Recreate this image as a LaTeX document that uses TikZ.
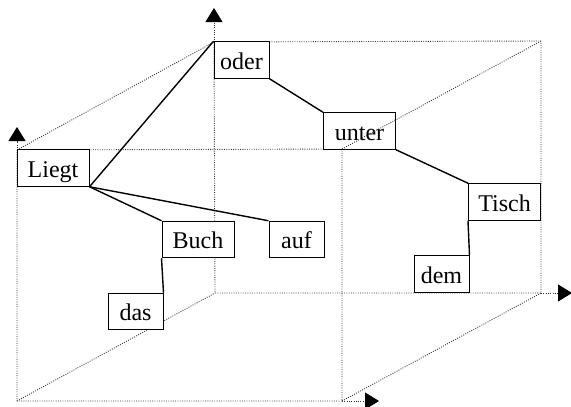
\documentclass[tikz,border=0pt]{standalone}
\usepackage{fontspec}
\setmainfont{Liberation Serif}
\usetikzlibrary{arrows.meta}
\tikzset{wd/.style={draw,fill=white,line width=1pt,minimum width=55pt,minimum height=36.5pt,inner sep=0pt,text height=23pt,text depth=5pt,font=\fontsize{24}{28}\selectfont},
 lw/.style={wd,minimum width=72pt},
 dt/.style={line width=0.9pt,dash pattern=on 0.9pt off 1.4pt,black!80},
 ax/.style={dt,-{Triangle[length=14pt,width=17pt,black]}},
 ln/.style={line width=1.4pt}}

\begin{document}
\begin{tikzpicture}[x=1pt,y=-1pt]
\useasboundingbox (0,0) rectangle (571,407);
% corners of the frame, front and back
\coordinate (f1) at (17,150);\coordinate (f2) at (342,149);
\coordinate (f3) at (17,401);\coordinate (f4) at (342,401);
\coordinate (b1) at (214,42);\coordinate (b2) at (541,41);
\coordinate (b3) at (215,293);\coordinate (b4) at (541,293);
\coordinate (tf) at (17,127);\coordinate (tb) at (214,8);
\coordinate (rf) at (379,401);\coordinate (rb) at (572,293);
\draw[dt](f1)--(f2)--(f4)--(f3)--cycle;
\draw[dt](b1)--(b2)--(b4)--(b3)--cycle;
\draw[dt](f1)--(b1) (f3)--(b3) (f4)--(b4);
\draw[ax](f1)--(tf);\draw[ax](b1)--(tb);
\draw[ax](f4)--(rf);\draw[ax](b4)--(rb);
% words
\node[lw](liegt) at (53,168){Liegt};
\node[wd](oder) at (241.5,60){oder};
\node[lw](unter) at (359.5,131){unter};
\node[lw](tisch) at (504.5,202){Tisch};
\node[lw](buch) at (198,239.5){Buch};
\node[wd](auf) at (296.5,239.5){auf};
\node[wd](das) at (135.5,311.5){das};
\node[wd](dem) at (441.5,274){dem};
\draw[dt](f2)--(b2);
% dependencies
\draw[ln](liegt.south east)--(oder.north west);
\draw[ln](liegt.south east)--(buch.north west);
\draw[ln](liegt.south east)--(auf.north west);
\draw[ln](oder.south east)--(unter.north west);
\draw[ln](unter.south east)--(tisch.north west);
\draw[ln](buch.south west)--(das.north east);
\draw[ln](tisch.south west)--(dem.north east);
\end{tikzpicture}
\end{document}
